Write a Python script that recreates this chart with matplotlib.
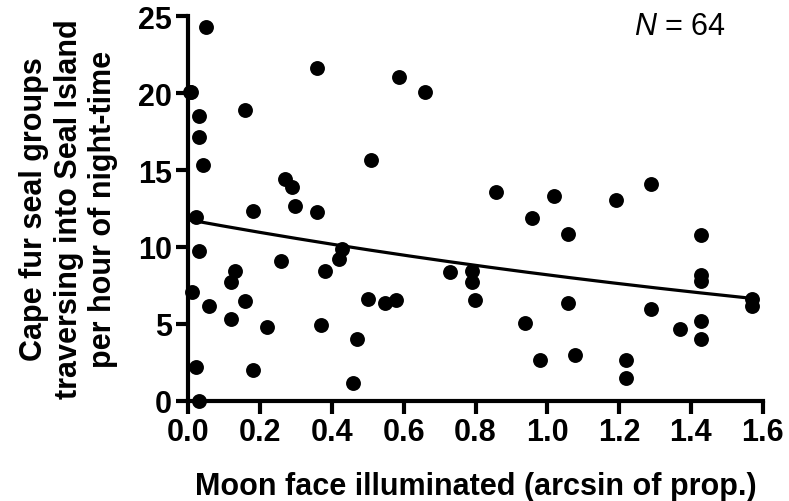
import numpy as np
import matplotlib.pyplot as plt

plt.rcParams['font.family'] = ['Liberation Sans', 'DejaVu Sans']
plt.rcParams['mathtext.fontset'] = 'custom'
plt.rcParams['mathtext.it'] = 'Liberation Sans:italic'
plt.rcParams['mathtext.rm'] = 'Liberation Sans'

# moon illumination (arcsin of proportion) and seal groups per hour
moon = [0.049, 0.008, 0.030, 0.030, 0.040, 0.021, 0.030, 0.009, 0.058, 0.021,
        0.030, 0.159, 0.130, 0.119, 0.159, 0.119, 0.181, 0.181, 0.219, 0.269,
        0.290, 0.298, 0.259, 0.358, 0.358, 0.380, 0.370, 0.429, 0.419, 0.469,
        0.460, 0.509, 0.500, 0.588, 0.659, 0.549, 0.579, 0.729, 0.789, 0.789,
        0.799, 0.858, 0.958, 1.019, 1.058, 1.058, 0.938, 0.979, 1.077, 1.190,
        1.289, 1.289, 1.219, 1.219, 1.369, 1.429, 1.429, 1.429, 1.429, 1.429,
        1.569, 1.569, 0.005]
seals = [24.28, 20.05, 18.53, 17.17, 15.35, 11.96, 9.71, 7.05, 6.18, 2.17,
         0.0, 18.92, 8.41, 7.74, 6.50, 5.31, 12.35, 2.02, 4.77, 14.41,
         13.87, 12.64, 9.10, 21.67, 12.25, 8.45, 4.94, 9.86, 9.21, 4.01,
         1.15, 15.67, 6.61, 21.07, 20.05, 6.33, 6.55, 8.35, 8.45, 7.74,
         6.55, 13.59, 11.88, 13.33, 10.84, 6.33, 5.05, 2.65, 2.97, 13.07,
         14.09, 5.96, 2.65, 1.48, 4.66, 10.79, 8.19, 7.76, 5.20, 4.01,
         6.61, 6.14, 20.10]

# fitted curve y = a * exp(b * x)
fit_a = 11.77
fit_b = -0.363
fit_xmax = 1.569

fig = plt.figure(figsize=(7.89, 5.02), dpi=100)
ax = fig.add_axes([0.2387, 0.1998, 0.728, 0.7657])

ax.scatter(moon, seals, s=115, color='black', zorder=3, clip_on=False, linewidths=0)

xf = np.linspace(0, fit_xmax, 200)
ax.plot(xf, fit_a * np.exp(fit_b * xf), color='black', lw=2.3, zorder=2)

ax.set_xlim(0, 1.6)
ax.set_ylim(0, 25)
ax.set_xticks(np.arange(0, 1.61, 0.2))
ax.set_xticklabels([f'{v:.1f}' for v in np.arange(0, 1.61, 0.2)])
ax.set_yticks([0, 5, 10, 15, 20, 25])

for side in ['top', 'right']:
    ax.spines[side].set_visible(False)
for side in ['left', 'bottom']:
    ax.spines[side].set_linewidth(3)
ax.tick_params(width=3, length=9, labelsize=22, pad=3)
for lab in ax.get_xticklabels() + ax.get_yticklabels():
    lab.set_fontweight('bold')

ax.set_xlabel('Moon face illuminated (arcsin of prop.)', fontsize=22,
              fontweight='bold', labelpad=17)
ax.set_ylabel('Cape fur seal groups\ntraversing into Seal Island\nper hour of night-time',
              fontsize=22, fontweight='bold', labelpad=14, linespacing=1.2)

ax.text(1.498, 24.36, '$N$ = 64', fontsize=22, ha='right', va='center')

fig.savefig('out.png', dpi=100)
